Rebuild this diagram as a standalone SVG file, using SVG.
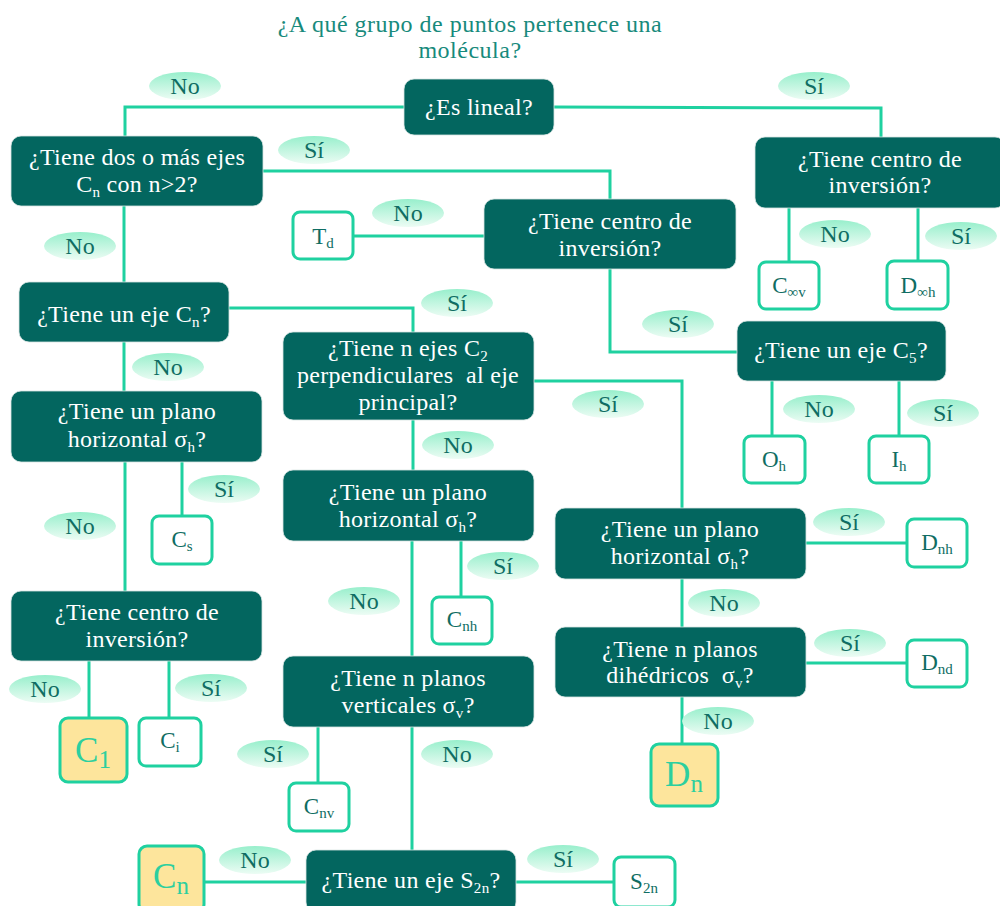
<svg xmlns="http://www.w3.org/2000/svg" width="1000" height="906" viewBox="0 0 1000 906">
<defs>
<linearGradient id="g" x1="0" y1="0" x2="0" y2="1">
<stop offset="0" stop-color="#98efcc"/>
<stop offset="1" stop-color="#ecfcf4"/>
</linearGradient>
<style>
text{font-family:"Liberation Serif","Times New Roman",serif;text-anchor:middle}
.q rect{fill:#03665f;stroke:#d8e4e2;stroke-width:0.8}
.q text{font-size:24px;letter-spacing:0.3px;fill:#ffffff}
.r rect{fill:#ffffff;stroke:#1fd1a0;stroke-width:3}
.r text{font-size:23px;fill:#0f6d63}
.y rect{fill:#fde59c}
.y text{font-size:35px;fill:#2ccf9f}
.s{font-size:15px}
.y .s{font-size:25px}
.l ellipse{fill:url(#g)}
.l text{font-size:24px;fill:#0f6d63}
.c path{stroke:#1fd1a0;stroke-width:3;fill:none}
.title{font-size:24px;letter-spacing:0.5px;fill:#178a7c}
</style>
</defs>
<rect width="1000" height="906" fill="#ffffff"/>
<g id="title">
<text class="title" x="470" y="32">¿A qué grupo de puntos pertenece una</text>
<text class="title" x="470" y="58">molécula?</text>
</g>
<g id="connectors" class="c">
<path d="M404 107 H125 V136"/>
<path d="M554 107 L881 108 V137"/>
<path d="M263 171 H610 V199"/>
<path d="M124 206 V282"/>
<path d="M353 236 H484"/>
<path d="M610 269 V352 H737"/>
<path d="M789 208 V262"/>
<path d="M918 208 V261"/>
<path d="M229 308 H413 V332"/>
<path d="M124 342 V391"/>
<path d="M125 462 V591"/>
<path d="M182 462 V516"/>
<path d="M89 661 V718"/>
<path d="M169 661 V718"/>
<path d="M534 381 H682 V508"/>
<path d="M413 420 V470"/>
<path d="M412 541 V656"/>
<path d="M461 541 V597"/>
<path d="M318 727 V783"/>
<path d="M412 727 V850"/>
<path d="M306 882 H204"/>
<path d="M516 882 H614"/>
<path d="M772 381 V436"/>
<path d="M899 381 V436"/>
<path d="M806 543 H907"/>
<path d="M682 579 V627"/>
<path d="M806 663 H907"/>
<path d="M682 697 V744"/>
</g>
<g id="q-lineal" class="q"><rect x="404" y="79" width="150" height="56" rx="10"/><text x="479" y="115">¿Es lineal?</text></g>
<g id="q-dosejes" class="q"><rect x="11" y="136" width="252" height="70" rx="10"/><text x="137" y="165">¿Tiene dos o más ejes</text><text x="137" y="192">C<tspan class="s" dy="5">n</tspan><tspan dy="-5"> con n&gt;2?</tspan></text></g>
<g id="q-centro-mid" class="q"><rect x="484" y="199" width="252" height="70" rx="10"/><text x="610" y="229">¿Tiene centro de</text><text x="610" y="256">inversión?</text></g>
<g id="q-centro-right" class="q"><rect x="755" y="137" width="250" height="71" rx="10"/><text x="880" y="167">¿Tiene centro de</text><text x="880" y="193">inversión?</text></g>
<g id="q-ejecn" class="q"><rect x="19" y="282" width="210" height="60" rx="10"/><text x="124" y="322">¿Tiene un eje C<tspan class="s" dy="5">n</tspan><tspan dy="-5">?</tspan></text></g>
<g id="q-plano-left" class="q"><rect x="11" y="391" width="251" height="71" rx="10"/><text x="137" y="419">¿Tiene un plano</text><text x="137" y="447">horizontal σ<tspan class="s" dy="5">h</tspan><tspan dy="-5">?</tspan></text></g>
<g id="q-centro-left" class="q"><rect x="11" y="591" width="251" height="70" rx="10"/><text x="137" y="620">¿Tiene centro de</text><text x="137" y="647">inversión?</text></g>
<g id="q-nejes" class="q"><rect x="283" y="332" width="251" height="88" rx="10"/><text x="408" y="356">¿Tiene n ejes C<tspan class="s" dy="5">2</tspan></text><text x="408" y="383" style="white-space:pre">perpendiculares  al eje</text><text x="408" y="410">principal?</text></g>
<g id="q-plano-mid" class="q"><rect x="283" y="470" width="251" height="71" rx="10"/><text x="408" y="500">¿Tiene un plano</text><text x="408" y="527">horizontal σ<tspan class="s" dy="5">h</tspan><tspan dy="-5">?</tspan></text></g>
<g id="q-verticales" class="q"><rect x="283" y="656" width="251" height="71" rx="10"/><text x="408" y="686">¿Tiene n planos</text><text x="408" y="713">verticales σ<tspan class="s" dy="5">v</tspan><tspan dy="-5">?</tspan></text></g>
<g id="q-s2n" class="q"><rect x="306" y="850" width="210" height="62" rx="10"/><text x="411" y="888">¿Tiene un eje S<tspan class="s" dy="5">2n</tspan><tspan dy="-5">?</tspan></text></g>
<g id="q-c5" class="q"><rect x="737" y="321" width="209" height="60" rx="10"/><text x="841" y="358">¿Tiene un eje C<tspan class="s" dy="5">5</tspan><tspan dy="-5">?</tspan></text></g>
<g id="q-plano-right" class="q"><rect x="555" y="508" width="251" height="71" rx="10"/><text x="680" y="537">¿Tiene un plano</text><text x="680" y="564">horizontal σ<tspan class="s" dy="5">h</tspan><tspan dy="-5">?</tspan></text></g>
<g id="q-dihedricos" class="q"><rect x="555" y="627" width="251" height="70" rx="10"/><text x="680" y="657">¿Tiene n planos</text><text x="680" y="683" style="white-space:pre">dihédricos  σ<tspan class="s" dy="5">v</tspan><tspan dy="-5">?</tspan></text></g>
<g id="r-td" class="r"><rect x="293" y="212" width="60" height="47" rx="7"/><text x="323" y="244">T<tspan class="s" dy="4">d</tspan></text></g>
<g id="r-cinfv" class="r"><rect x="759" y="262" width="60" height="47" rx="7"/><text x="789" y="293">C<tspan class="s" dy="4">∞v</tspan></text></g>
<g id="r-dinfh" class="r"><rect x="887" y="261" width="61" height="48" rx="7"/><text x="918" y="293">D<tspan class="s" dy="4">∞h</tspan></text></g>
<g id="r-cs" class="r"><rect x="152" y="516" width="60" height="48" rx="7"/><text x="182" y="547">C<tspan class="s" dy="4">s</tspan></text></g>
<g id="r-oh" class="r"><rect x="744" y="436" width="61" height="47" rx="7"/><text x="774" y="467">O<tspan class="s" dy="4">h</tspan></text></g>
<g id="r-ih" class="r"><rect x="869" y="436" width="60" height="47" rx="7"/><text x="899" y="467">I<tspan class="s" dy="4">h</tspan></text></g>
<g id="r-dnh" class="r"><rect x="907" y="519" width="60" height="48" rx="7"/><text x="937" y="550">D<tspan class="s" dy="4">nh</tspan></text></g>
<g id="r-dnd" class="r"><rect x="907" y="640" width="60" height="47" rx="7"/><text x="937" y="670">D<tspan class="s" dy="4">nd</tspan></text></g>
<g id="r-cnh" class="r"><rect x="432" y="597" width="60" height="47" rx="7"/><text x="462" y="627">C<tspan class="s" dy="4">nh</tspan></text></g>
<g id="r-ci" class="r"><rect x="139" y="718" width="62" height="48" rx="7"/><text x="170" y="748">C<tspan class="s" dy="4">i</tspan></text></g>
<g id="r-cnv" class="r"><rect x="289" y="783" width="60" height="48" rx="7"/><text x="319" y="814">C<tspan class="s" dy="4">nv</tspan></text></g>
<g id="r-s2n" class="r"><rect x="614" y="857" width="61" height="50" rx="7"/><text x="644" y="889">S<tspan class="s" dy="4">2n</tspan></text></g>
<g id="r-c1" class="r y"><rect x="60" y="718" width="67" height="64" rx="8"/><text x="93" y="762">C<tspan class="s" dy="6">1</tspan></text></g>
<g id="r-dn" class="r y"><rect x="651" y="744" width="67" height="62" rx="8"/><text x="684" y="786">D<tspan class="s" dy="6">n</tspan></text></g>
<g id="r-cn" class="r y"><rect x="139" y="846" width="65" height="66" rx="8"/><text x="171" y="888">C<tspan class="s" dy="6">n</tspan></text></g>
<g id="labels" class="l">
<g id="l1"><ellipse cx="185" cy="86" rx="36" ry="14"/><text x="185" y="94">No</text></g>
<g id="l2"><ellipse cx="814" cy="86" rx="36" ry="14"/><text x="814" y="94">Sí</text></g>
<g id="l3"><ellipse cx="314" cy="150" rx="36" ry="14"/><text x="314" y="158">Sí</text></g>
<g id="l4"><ellipse cx="408" cy="213" rx="36" ry="14"/><text x="408" y="221">No</text></g>
<g id="l5"><ellipse cx="80" cy="246" rx="36" ry="14"/><text x="80" y="254">No</text></g>
<g id="l6"><ellipse cx="457" cy="303" rx="36" ry="14"/><text x="457" y="311">Sí</text></g>
<g id="l7"><ellipse cx="168" cy="367" rx="36" ry="14"/><text x="168" y="375">No</text></g>
<g id="l8"><ellipse cx="224" cy="489" rx="36" ry="14"/><text x="224" y="497">Sí</text></g>
<g id="l9"><ellipse cx="80" cy="526" rx="36" ry="14"/><text x="80" y="534">No</text></g>
<g id="l10"><ellipse cx="458" cy="445" rx="36" ry="14"/><text x="458" y="453">No</text></g>
<g id="l11"><ellipse cx="503" cy="566" rx="36" ry="14"/><text x="503" y="574">Sí</text></g>
<g id="l12"><ellipse cx="364" cy="601" rx="36" ry="14"/><text x="364" y="609">No</text></g>
<g id="l13"><ellipse cx="608" cy="404" rx="36" ry="14"/><text x="608" y="412">Sí</text></g>
<g id="l14"><ellipse cx="678" cy="324" rx="36" ry="14"/><text x="678" y="332">Sí</text></g>
<g id="l15"><ellipse cx="835" cy="234" rx="36" ry="14"/><text x="835" y="242">No</text></g>
<g id="l16"><ellipse cx="961" cy="236" rx="36" ry="14"/><text x="961" y="244">Sí</text></g>
<g id="l17"><ellipse cx="819" cy="409" rx="36" ry="14"/><text x="819" y="417">No</text></g>
<g id="l18"><ellipse cx="943" cy="413" rx="36" ry="14"/><text x="943" y="421">Sí</text></g>
<g id="l19"><ellipse cx="849" cy="522" rx="36" ry="14"/><text x="849" y="530">Sí</text></g>
<g id="l20"><ellipse cx="724" cy="603" rx="36" ry="14"/><text x="724" y="611">No</text></g>
<g id="l21"><ellipse cx="850" cy="643" rx="36" ry="14"/><text x="850" y="651">Sí</text></g>
<g id="l22"><ellipse cx="718" cy="721" rx="36" ry="14"/><text x="718" y="729">No</text></g>
<g id="l23"><ellipse cx="45" cy="689" rx="36" ry="14"/><text x="45" y="697">No</text></g>
<g id="l24"><ellipse cx="211" cy="688" rx="36" ry="14"/><text x="211" y="696">Sí</text></g>
<g id="l25"><ellipse cx="273" cy="754" rx="36" ry="14"/><text x="273" y="762">Sí</text></g>
<g id="l26"><ellipse cx="457" cy="754" rx="36" ry="14"/><text x="457" y="762">No</text></g>
<g id="l27"><ellipse cx="255" cy="860" rx="36" ry="14"/><text x="255" y="868">No</text></g>
<g id="l28"><ellipse cx="563" cy="859" rx="36" ry="14"/><text x="563" y="867">Sí</text></g>
</g>
</svg>
